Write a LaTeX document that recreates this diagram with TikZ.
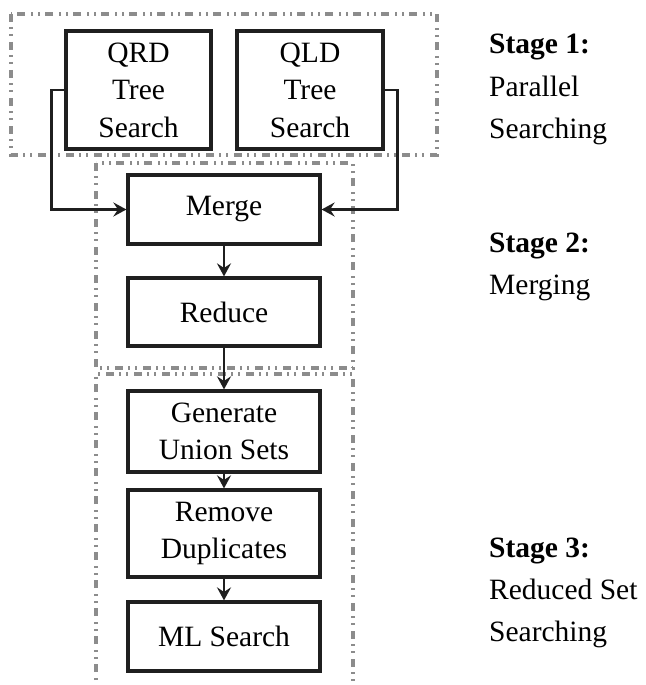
\documentclass[tikz,border=0pt]{standalone}
\usepackage{fontspec}
\setmainfont{Liberation Serif}
\usetikzlibrary{arrows.meta}
\begin{document}
\begin{tikzpicture}[x=1pt,y=-1pt,
  procbox/.style={draw=black!88, line width=3.2pt, align=center, inner sep=0pt,
    font=\fontsize{29.5}{37.5}\selectfont, minimum width=#1},
  procbox/.default=192pt,
  stagebox/.style={draw=black!45, line width=3.2pt,
    dash pattern=on 8pt off 5pt on 2pt off 5pt on 2pt off 6pt},
  arr/.style={draw=black!88, line width=2.8pt, -{Stealth[length=13pt,width=14pt,inset=4.5pt]}},
  lbl/.style={anchor=base west, inner sep=0pt, font=\fontsize{29.5}{42}\selectfont},
  lblb/.style={lbl, font=\fontsize{29.5}{42}\selectfont\bfseries}]
\useasboundingbox (0,0) rectangle (645,685);
\clip (0,0) rectangle (645,685);
% stage frames
\draw[stagebox] (11,14) rectangle (437,155);
\draw[stagebox] (96,163) rectangle (353,368);
\draw[stagebox] (96,700) -- (96,374) -- (353,374) -- (353,700);
% boxes
\node[procbox=145pt, minimum height=118pt] (qrd) at (138.5,90) {QRD\\Tree\\Search};
\node[procbox=146pt, minimum height=118pt] (qld) at (310,90) {QLD\\Tree\\Search};
\node[procbox, minimum height=69pt] (merge) at (224,209.5) {Merge};
\node[procbox, minimum height=68pt] (reduce) at (224,312) {Reduce};
\node[procbox, minimum height=81pt] (gen) at (224,431.5) {Generate\\Union Sets};
\node[procbox, minimum height=87pt] (rem) at (224,533.5) {Remove\\Duplicates};
\node[procbox, minimum height=69pt] (ml) at (224,636.5) {ML Search};
% connectors
\draw[arr] (qrd.west) -- ++(-13,0) |- (merge.west);
\draw[arr] (qld.east) -- ++(13,0) |- (merge.east);
\draw[arr] (merge) -- (reduce);
\draw[arr] (reduce) -- (gen);
\draw[arr] (gen) -- (rem);
\draw[arr] (rem) -- (ml);
% stage labels
\node[lblb] (s1a) at (489,54) {Stage 1:};
\node[lbl] (s1b) at (489,96) {Parallel};
\node[lbl] (s1c) at (489,138) {Searching};
\node[lblb] (s2a) at (489,252) {Stage 2:};
\node[lbl] (s2b) at (489,294) {Merging};
\node[lblb] (s3a) at (489,557) {Stage 3:};
\node[lbl] (s3b) at (489,599) {Reduced Set};
\node[lbl] (s3c) at (489,641) {Searching};
\end{tikzpicture}
\end{document}
